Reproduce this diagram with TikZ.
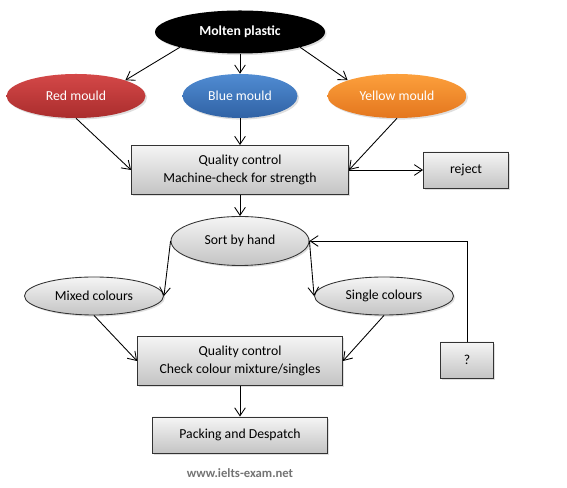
\documentclass[tikz,border=0pt]{standalone}
\usepackage{fontspec}
\setmainfont{Carlito}
\usetikzlibrary{arrows.meta, shapes.geometric, shadows}

\definecolor{redtop}{RGB}{212,72,72}
\definecolor{redbot}{RGB}{170,45,45}
\definecolor{bluetop}{RGB}{80,140,210}
\definecolor{bluebot}{RGB}{48,98,165}
\definecolor{orangetop}{RGB}{252,160,60}
\definecolor{orangebot}{RGB}{228,118,30}
\definecolor{greytop}{RGB}{245,245,245}
\definecolor{greybot}{RGB}{196,196,196}

\tikzset{
  lightshadow/.style={drop shadow={shadow xshift=1.2pt, shadow yshift=-1.2pt, opacity=0.25}},
  mould/.style={ellipse, inner sep=0pt, minimum width=104.25pt, minimum height=33pt,
    text=white, lightshadow},
  greybox/.style={rectangle, draw=black!80, line width=0.65pt, inner sep=2pt,
    top color=greytop, bottom color=greybot, lightshadow},
  greyoval/.style={ellipse, draw=black!80, line width=0.65pt, inner sep=0pt,
    top color=greytop, bottom color=greybot, lightshadow},
}

\begin{document}
\begin{tikzpicture}[x=0.75pt, y=0.75pt,
  >={Straight Barb[length=6pt,width=8pt]},
  every node/.style={font=\fontsize{10.3}{13.5}\selectfont, align=center}]
\useasboundingbox (0,0) rectangle (567,488);

\node[ellipse, fill=black, text=white, font=\fontsize{10.3}{13.5}\selectfont\bfseries,
  minimum width=127.5pt, minimum height=32.25pt, inner sep=0pt, lightshadow]
  (molten) at (240,456) {Molten plastic};

\node[mould, top color=redtop, bottom color=redbot] (red) at (76,392) {Red mould};
\node[mould, top color=bluetop, bottom color=bluebot, minimum width=86.25pt] (blue) at (240,392) {Blue mould};
\node[mould, top color=orangetop, bottom color=orangebot] (yellow) at (397,392) {Yellow mould};

\node[greybox, minimum width=162.75pt, minimum height=36.75pt] (qc1) at (240,318)
  {Quality control\\Machine-check for strength};
\node[greybox, minimum width=63.75pt, minimum height=27pt] (reject) at (466,318) {reject};

\node[greyoval, minimum width=103.5pt, minimum height=36.75pt] (sort) at (240,247) {Sort by hand};
\node[greyoval, minimum width=104.25pt, minimum height=28.5pt] (mixed) at (94,192) {Mixed colours};
\node[greyoval, minimum width=104.25pt, minimum height=28.5pt] (single) at (384,192) {Single colours};

\node[greybox, minimum width=153.75pt, minimum height=36.75pt] (qc2) at (240,127)
  {Quality control\\Check colour mixture/singles};
\node[greybox, minimum width=39.75pt, minimum height=27pt] (unknown) at (467,128) {?};

\node[greybox, minimum width=131.25pt, minimum height=27pt] (pack) at (240,53) {Packing and Despatch};

\node[text=black!55, font=\fontsize{9.5}{11}\selectfont\bfseries] (site) at (240,15) {www.ielts-exam.net};

\path[line width=0.65pt]
(molten.south west) edge[->] (red.north east)
(molten) edge[->] (blue)
(molten.south east) edge[->] (yellow.north west)
(red.south) edge[->] (qc1.west)
(blue) edge[->] (qc1)
(yellow.south) edge[->] (qc1.east)
(qc1.east) edge[->] (reject.west)
(qc1) edge[->] (sort)
(sort.west) edge[->] (mixed.east)
(sort.east) edge[->] (single.west)
(unknown.north) edge[->, to path={|- (\tikztotarget)}] (sort.east)
(mixed.south) edge[->] (qc2.west)
(single.south) edge[->] (qc2.east)
(qc2) edge[->] (pack)
;
\end{tikzpicture}
\end{document}
